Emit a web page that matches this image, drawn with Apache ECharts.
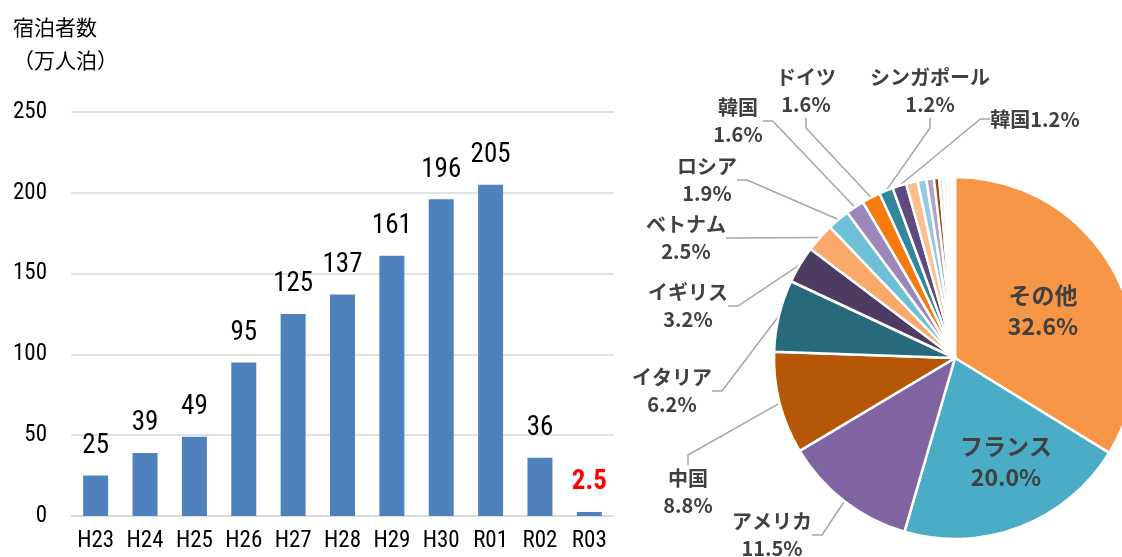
<!DOCTYPE html>
<html>
<head>
<meta charset="utf-8">
<script src="https://cdn.jsdelivr.net/npm/echarts@6/dist/echarts.min.js"></script>
<style>
html,body{margin:0;padding:0;background:#fff;}
#c{width:1122px;height:557px;}
</style>
</head>
<body>
<div id="c"></div>
<script>
// ---- Bar chart data ----
const years = ['H23','H24','H25','H26','H27','H28','H29','H30','R01','R02','R03'];
const stays = [25, 39, 49, 95, 125, 137, 161, 196, 205, 36, 2.5];
const yTicks = {min: 0, max: 250, interval: 50};

// ---- Pie chart data (share %, clockwise from 12 o'clock) ----
const pieNames = ['その他','フランス','アメリカ','中国','イタリア','イギリス','ベトナム','ロシア','韓国','ドイツ','シンガポール','韓国',
                  '', '', '', '', '', '', '', ''];
const pieValues = [32.6, 20.0, 11.5, 8.8, 6.2, 3.2, 2.5, 1.9, 1.6, 1.6, 1.2, 1.2,
                   1.0, 0.75, 0.65, 0.45, 0.35, 0.3, 0.35, 0.35];

// ---- styles / layout (not data) ----
const pieColors = ['#F79646','#4BACC6','#8064A2','#B65708','#276A7C','#4D3B62','#F9A96A','#6EC0D6','#9C86BA','#F57A10','#31879E','#5E4A7E',
                   '#FAC090','#93CDDD','#B3A2C7','#984807','#E6E0EC','#DAEEF3','#FDF3EA','#FFFFFF'];
const labelCenters = [[1043,311],[1006,462],[772,535],[688,492],[672,391],[688,306],[686,238],[707,180],[738,121],[806,91],[930,91],[1035,119]];
const insideCount = 2;
const singleLine = {11: true};

const narrow = "'Liberation Sans Narrow','Arial Narrow','Roboto Condensed',Roboto,'Noto Sans CJK JP',sans-serif";
const jp = "'Noto Sans CJK JP',sans-serif";

const barData = stays.map((v, i) => {
  const item = {value: v};
  if (i === stays.length - 1) item.label = {color: '#FF0000', fontWeight: 'bold'};
  return item;
});

const pieData = pieValues.map((v, i) => {
  const name = pieNames[i];
  const item = {name: name || ('_' + i), value: v, itemStyle: {color: pieColors[i]}};
  if (!name) {
    item.label = {show: false};
    item.labelLine = {show: false};
  } else if (i < insideCount) {
    item.label = {position: 'inside', fontSize: 23, lineHeight: 31};
    item.labelLine = {show: false};
  }
  return item;
});

const chart = echarts.init(document.getElementById('c'), null, {renderer: 'canvas'});
chart.setOption({
  animation: false,
  backgroundColor: '#ffffff',
  title: {
    text: '宿泊者数\n（万人泊）',
    left: 8, top: 6,
    textStyle: {fontFamily: jp, fontSize: 21, fontWeight: 'normal', color: '#000', lineHeight: 33}
  },
  grid: {left: 71, right: 508, top: 112, bottom: 41, containLabel: false},
  xAxis: {
    type: 'category',
    data: years,
    axisLine: {lineStyle: {color: '#d9d9d9', width: 1.5}},
    axisTick: {show: false},
    axisLabel: {interval: 0, fontFamily: narrow, fontSize: 23, color: '#000', margin: 14}
  },
  yAxis: {
    type: 'value',
    min: yTicks.min, max: yTicks.max, interval: yTicks.interval,
    axisLine: {show: false},
    axisTick: {show: false},
    splitLine: {lineStyle: {color: '#d9d9d9', width: 1.5}},
    axisLabel: {fontFamily: narrow, fontSize: 23, color: '#000', margin: 24}
  },
  series: [
    {
      type: 'bar',
      data: barData,
      barWidth: 25,
      itemStyle: {color: '#4F81BD'},
      label: {
        show: true, position: 'top', distance: 16,
        fontFamily: narrow, fontSize: 27, color: '#000',
        formatter: p => String(p.value)
      }
    },
    {
      type: 'pie',
      center: [955, 358],
      radius: 181,
      startAngle: 90,
      clockwise: true,
      avoidLabelOverlap: false,
      data: pieData,
      itemStyle: {borderColor: '#ffffff', borderWidth: 2.5},
      label: {
        show: true,
        fontFamily: jp, fontSize: 20, fontWeight: 'bold', color: '#404040', lineHeight: 27,
        align: 'center',
        formatter: p => {
          const i = p.dataIndex;
          const pct = pieValues[i].toFixed(1) + '%';
          return singleLine[i] ? pieNames[i] + pct : pieNames[i] + '\n' + pct;
        }
      },
      labelLine: {show: true, length: 10, length2: 10, lineStyle: {color: '#a6a6a6', width: 1.5}},
      labelLayout: function (p) {
        const c = labelCenters[p.dataIndex];
        if (!c) return {};
        return {x: c[0], y: c[1], align: 'center', verticalAlign: 'middle', hideOverlap: false};
      }
    }
  ]
});
</script>
</body>
</html>
